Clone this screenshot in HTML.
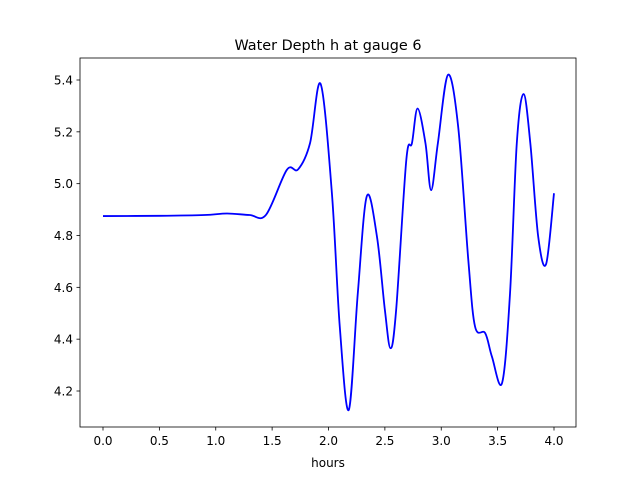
<!DOCTYPE html>
<html><head><meta charset="utf-8"><style>
body{margin:0;background:#fff;font-family:"Liberation Sans","DejaVu Sans",sans-serif;}
</style></head><body>
<svg width="640" height="480" xmlns="http://www.w3.org/2000/svg" font-family="DejaVu Sans, Liberation Sans, sans-serif">
<rect width="640" height="480" fill="#fff"/>
<text x="328" y="50" text-anchor="middle" font-size="14.4">Water Depth h at gauge 6</text>
<g id="axes"></g>
<path id="line" fill="none" stroke="#0000ff" stroke-width="1.8"/>
<rect x="80" y="58" width="496" height="369" fill="none" stroke="#000" stroke-width="0.8"/>
<text x="328" y="467" text-anchor="middle" font-size="12">hours</text>
</svg>
<script>
const hours=[0,0.5,0.9,1.1,1.3,1.446,1.63,1.73,1.836,1.93,2.03,2.10,2.18,2.26,2.34,2.43,2.50,2.55,2.60,2.69,2.74,2.79,2.86,2.91,2.97,3.06,3.15,3.24,3.30,3.39,3.45,3.54,3.61,3.67,3.73,3.79,3.86,3.93,4.0];
const depth=[4.875,4.876,4.879,4.885,4.879,4.88,5.053,5.055,5.156,5.385,4.964,4.448,4.127,4.578,4.952,4.795,4.513,4.365,4.513,5.091,5.156,5.29,5.156,4.975,5.156,5.42,5.22,4.705,4.448,4.423,4.332,4.232,4.577,5.156,5.346,5.156,4.795,4.69,4.963];
const xTicks=[0,0.5,1,1.5,2,2.5,3,3.5,4];
const xTickLabels=["0.0","0.5","1.0","1.5","2.0","2.5","3.0","3.5","4.0"];
const yTicks=[4.2,4.4,4.6,4.8,5.0,5.2,5.4];
const yTickLabels=["4.2","4.4","4.6","4.8","5.0","5.2","5.4"];
const X=v=>103+v*112.75;
const Y=v=>80+(5.4-v)*259.17;
const ns="http://www.w3.org/2000/svg";
const g=document.getElementById('axes');
function mk(t,a){const e=document.createElementNS(ns,t);for(const k in a)e.setAttribute(k,a[k]);g.appendChild(e);return e;}
xTicks.forEach((v,i)=>{
 const l=mk('line',{x1:X(v),x2:X(v),y1:427,y2:430.5,stroke:'#000','stroke-width':0.8});
 
 
 const t=mk('text',{x:X(v),y:445,'text-anchor':'middle','font-size':12});
 t.textContent=xTickLabels[i];
 
 
});
yTicks.forEach((v,i)=>{
 const l=mk('line',{x1:76.5,x2:80,y1:Y(v),y2:Y(v),stroke:'#000','stroke-width':0.8});
 
 
 const t=mk('text',{x:73,y:Y(v)+4.5,'text-anchor':'end','font-size':12});
 t.textContent=yTickLabels[i];
 
 
});
const P=hours.map((h,i)=>[X(h),Y(depth[i])]);
let d='M'+P[0][0]+','+P[0][1];
for(let i=0;i<P.length-1;i++){
 const p0=P[Math.max(0,i-1)],p1=P[i],p2=P[i+1],p3=P[Math.min(P.length-1,i+2)];
 const c1=[p1[0]+(p2[0]-p0[0])/6,p1[1]+(p2[1]-p0[1])/6];
 const c2=[p2[0]-(p3[0]-p1[0])/6,p2[1]-(p3[1]-p1[1])/6];
 d+=` C${c1[0]},${c1[1]} ${c2[0]},${c2[1]} ${p2[0]},${p2[1]}`;
}
document.getElementById('line').setAttribute('d',d);
</script>
</body></html>
